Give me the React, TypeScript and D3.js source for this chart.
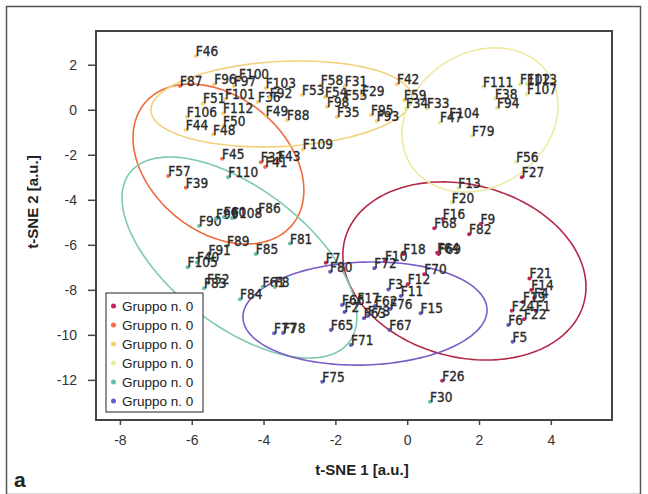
import React from 'react';
import * as d3 from 'd3';

// t-SNE embedding, one entry per sample: [label, t-SNE 1, t-SNE 2, group]
const points: [string, number, number, number][] = [
  // group 0 (crimson)
  ['F7', -2.28, -6.77, 0], ['F26', 0.96, -12.02, 0], ['F64', 0.82, -6.33, 0], ['F69', 0.86, -6.39, 0],
  ['F68', 0.74, -5.24, 0], ['F82', 1.71, -5.51, 0], ['F9', 2.03, -5.05, 0], ['F16', 0.98, -4.83, 0],
  ['F21', 3.39, -7.47, 0], ['F14', 3.44, -7.99, 0], ['F4', 3.52, -8.34, 0], ['F19', 3.21, -8.52, 0],
  ['F24', 2.9, -8.91, 0], ['F1', 3.57, -8.92, 0], ['F22', 3.24, -9.29, 0], ['F27', 3.18, -2.98, 0],
  ['F12', 0.0, -7.73, 0], ['F70', 0.46, -7.28, 0], ['F18', -0.12, -6.39, 0], ['F10', -0.63, -6.7, 0],
  // group 1 (orange)
  ['F87', -6.34, 1.08, 1], ['F45', -5.17, -2.16, 1], ['F32', -4.09, -2.31, 1], ['F43', -3.61, -2.25, 1],
  ['F41', -3.97, -2.52, 1], ['F57', -6.67, -2.92, 1], ['F39', -6.18, -3.44, 1], ['F86', -4.16, -4.58, 1],
  // group 2 (yellow)
  ['F46', -5.9, 2.41, 2], ['F96', -5.39, 1.15, 2], ['F100', -4.7, 1.39, 2], ['F97', -4.84, 1.08, 2],
  ['F103', -3.95, 0.99, 2], ['F58', -2.42, 1.12, 2], ['F51', -5.7, 0.3, 2], ['F101', -5.09, 0.5, 2],
  ['F36', -4.17, 0.37, 2], ['F92', -3.84, 0.55, 2], ['F53', -2.94, 0.68, 2], ['F54', -2.3, 0.59, 2],
  ['F106', -6.15, -0.3, 2], ['F112', -5.14, -0.14, 2], ['F49', -3.95, -0.25, 2], ['F88', -3.36, -0.43, 2],
  ['F44', -6.18, -0.88, 2], ['F50', -5.14, -0.7, 2], ['F48', -5.42, -1.08, 2], ['F109', -2.92, -1.74, 2],
  ['F31', -1.75, 1.08, 2], ['F55', -1.75, 0.46, 2], ['F29', -1.27, 0.64, 2], ['F98', -2.25, 0.15, 2],
  ['F35', -1.97, -0.3, 2], ['F95', -1.02, -0.21, 2], ['F93', -0.86, -0.48, 2], ['F42', -0.3, 1.15, 2],
  ['F59', -0.1, 0.46, 2],
  // group 3 (pale yellow)
  ['F111', 2.1, 1.04, 3], ['F38', 2.43, 0.52, 3], ['F94', 2.49, 0.1, 3], ['F102', 3.13, 1.15, 3],
  ['F113', 3.32, 1.17, 3], ['F107', 3.32, 0.7, 3], ['F79', 1.79, -1.14, 3], ['F104', 1.16, -0.34, 3],
  ['F47', 0.9, -0.54, 3], ['F33', 0.54, 0.08, 3], ['F34', -0.05, 0.08, 3], ['F56', 3.02, -2.3, 3],
  ['F13', 1.41, -3.45, 3], ['F20', 1.23, -4.1, 3],
  // group 4 (teal)
  ['F110', -5.0, -2.98, 4], ['F90', -5.81, -5.14, 4], ['F99', -5.34, -4.83, 4], ['F60', -5.12, -4.74, 4],
  ['F108', -4.89, -4.79, 4], ['F89', -5.03, -6.03, 4], ['F85', -4.23, -6.39, 4], ['F91', -5.55, -6.43, 4],
  ['F81', -3.28, -5.92, 4], ['F40', -5.87, -6.76, 4], ['F105', -6.13, -6.98, 4], ['F52', -5.59, -7.7, 4],
  ['F83', -5.67, -7.91, 4], ['F84', -4.67, -8.4, 4], ['F61', -4.04, -7.84, 4], ['F8', -3.7, -7.85, 4],
  ['F30', 0.62, -12.95, 4],
  // group 5 (purple)
  ['F80', -2.16, -7.17, 5], ['F72', -0.93, -7.02, 5], ['F3', -0.54, -7.96, 5], ['F11', -0.19, -8.25, 5],
  ['F17', -1.4, -8.58, 5], ['F66', -1.83, -8.65, 5], ['F2', -1.76, -8.96, 5], ['F62', -0.91, -8.7, 5],
  ['F76', -0.49, -8.83, 5], ['F63', -1.22, -9.24, 5], ['F73', -1.11, -9.14, 5], ['F15', 0.36, -9.02, 5],
  ['F67', -0.51, -9.76, 5], ['F65', -2.14, -9.76, 5], ['F71', -1.58, -10.43, 5], ['F75', -2.38, -12.06, 5],
  ['F77', -3.72, -9.91, 5], ['F78', -3.47, -9.9, 5], ['F6', 2.8, -9.54, 5], ['F5', 2.92, -10.28, 5],
];

// confidence ellipses per group: centre and two conjugate semi-axes, in data units
const ellipses = [
  { cx: 1.58, cy: -7.14, ux: 3.33, uy: -1.4, vx: -0.61, vy: -3.7 },
  { cx: -5.27, cy: -2.39, ux: 2.06, uy: -2.69, vx: -1.19, vy: -2.32 },
  { cx: -3.515, cy: 0.28, ux: 3.635, uy: 0.298, vx: 0.061, vy: -1.885 },
  { cx: 2.014, cy: -0.431, ux: 1.911, uy: 2.036, vx: 1.033, vy: -2.471 },
  { cx: -4.685, cy: -6.542, ux: 3.056, uy: -3.756, vx: -1.165, vy: -2.415 },
  { cx: -1.189, cy: -9.031, ux: 3.398, uy: 0.189, vx: 0.05, vy: -2.284 },
];

const groupNames = ['Gruppo n. 0', 'Gruppo n. 0', 'Gruppo n. 0', 'Gruppo n. 0', 'Gruppo n. 0', 'Gruppo n. 0'];
const dotColors = ['#c4245a', '#f46d43', '#f9cf6a', '#e0ec96', '#66c2a5', '#6a5cc4'];
const lineColors = ['#b32a46', '#ef6a3c', '#f2d27e', '#efe9a2', '#7fc9b0', '#7a5cc6'];

const xTicks = [-8, -6, -4, -2, 0, 2, 4];
const yTicks = [2, 0, -2, -4, -6, -8, -10, -12];

const W = 648;
const H = 494;
const box = { left: 96, top: 31, right: 612, bottom: 420 };

export default function App() {
  const x = d3.scaleLinear().domain([-8.68, 5.69]).range([box.left, box.right]);
  const y = d3.scaleLinear().domain([3.52, -13.76]).range([box.top, box.bottom]);

  const ts = d3.range(0, 2 * Math.PI, Math.PI / 90);
  const ellipsePath = (e: typeof ellipses[number]) =>
    d3.line<number>()
      .x(t => x(e.cx + e.ux * Math.cos(t) + e.vx * Math.sin(t)))
      .y(t => y(e.cy + e.uy * Math.cos(t) + e.vy * Math.sin(t)))
      .curve(d3.curveLinearClosed)(ts) || '';

  const labelFont = '"Liberation Sans Narrow", "DejaVu Sans Condensed", "Arial Narrow", sans-serif';
  const font = '"Liberation Sans", Arial, sans-serif';

  const legend = { x: 106, y: 293, w: 97, h: 119, row: 19 };

  return (
    <svg width={W} height={H} style={{ position: 'absolute', left: 0, top: 0, background: '#fff' }}>
      <rect x={6.5} y={6.5} width={634} height={488} fill="none" stroke="#555" strokeWidth={1.5} />

      {/* ellipses */}
      {ellipses.map((e, i) => (
        <path key={'e' + i} d={ellipsePath(e)} fill="none" stroke={lineColors[i]} strokeWidth={1.6} />
      ))}

      {/* points + labels */}
      {points.map(([name, px, py, g]) => (
        <g key={name} transform={`translate(${x(px)},${y(py)})`}>
          <circle r={2} fill={dotColors[g]} />
          <text x={0} y={0} fontFamily={labelFont} fontSize={13.5} fill="#2a2a2a" stroke="#2a2a2a" strokeWidth={0.35}>
            {name}
          </text>
        </g>
      ))}

      {/* plot frame */}
      <rect x={box.left} y={box.top} width={box.right - box.left} height={box.bottom - box.top}
        fill="none" stroke="#444" strokeWidth={2} />

      {/* x axis */}
      {xTicks.map(t => (
        <g key={'x' + t} transform={`translate(${x(t)},${box.bottom})`}>
          <line y1={0} y2={5} stroke="#444" strokeWidth={1.5} />
          <text y={25} textAnchor="middle" fontFamily={font} fontSize={14} fill="#333">{t}</text>
        </g>
      ))}
      {/* y axis */}
      {yTicks.map(t => (
        <g key={'y' + t} transform={`translate(${box.left},${y(t)})`}>
          <line x1={-8} x2={0} stroke="#444" strokeWidth={1.5} />
          <text x={-19} dy="0.35em" textAnchor="end" fontFamily={font} fontSize={14} fill="#333">{t}</text>
        </g>
      ))}

      <text x={362} y={475} textAnchor="middle" fontFamily={font} fontSize={15} fontWeight="bold" fill="#222">
        t-SNE 1 [a.u.]
      </text>
      <text transform="translate(38,202) rotate(-90)" textAnchor="middle" fontFamily={font} fontSize={15}
        fontWeight="bold" fill="#222">
        t-SNE 2 [a.u.]
      </text>
      <text x={14} y={487} fontFamily={font} fontSize={21} fontWeight="bold" fill="#222">a</text>

      {/* legend */}
      <rect x={legend.x} y={legend.y} width={legend.w} height={legend.h} fill="#fff" stroke="#222" strokeWidth={1} />
      {groupNames.map((n, i) => (
        <g key={'l' + i} transform={`translate(${legend.x},${legend.y + 13 + i * legend.row})`}>
          <circle cx={7.5} cy={0} r={2.5} fill={dotColors[i]} />
          <text x={16} dy="0.35em" fontFamily={font} fontSize={13.5} fill="#222">{n}</text>
        </g>
      ))}
    </svg>
  );
}
